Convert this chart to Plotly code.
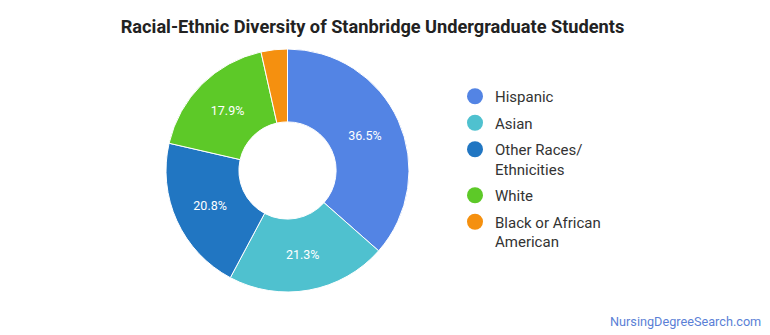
import plotly.graph_objects as go

categories = ["Hispanic", "Asian", "Other Races/<br>Ethnicities", "White", "Black or African<br>American"]
values = [36.5, 21.3, 20.8, 17.9, 3.5]
colors = ["#5384E4", "#4FC1CF", "#2176C2", "#5DC928", "#F5900F"]
labels_shown = ["36.5%", "21.3%", "20.8%", "17.9%", ""]

fig = go.Figure()
fig.add_trace(go.Pie(
    labels=categories, values=values, sort=False, direction="clockwise", rotation=0,
    hole=0.4, marker=dict(colors=colors, line=dict(color="white", width=1)),
    text=labels_shown, textinfo="text", textposition="inside",
    insidetextorientation="horizontal",
    textfont=dict(family="Roboto", size=12.5, color="white"),
    domain=dict(x=[166/770, 409/770], y=[43/335, 286/335]),
    showlegend=False, hoverinfo="label+value",
))
for i, (name, c) in enumerate(zip(categories, colors)):
    fig.add_trace(go.Scatter(x=[None], y=[None], mode="markers", name=name,
                             legendgroup=f"g{i}",
                             marker=dict(symbol="circle", size=16, color=c)))

fig.update_layout(
    width=770, height=335, margin=dict(l=0, r=0, t=0, b=0),
    paper_bgcolor="white", plot_bgcolor="white",
    xaxis=dict(visible=False), yaxis=dict(visible=False),
    title=dict(text="<b>Racial-Ethnic Diversity of Stanbridge Undergraduate Students</b>",
               x=372.5/770, xanchor="center", y=1-27/335, yanchor="middle",
               font=dict(family="Roboto", size=18.2, color="#222")),
    legend=dict(x=455/770, xanchor="left", y=1-80/335, yanchor="top",
                font=dict(family="Roboto", size=15, color="#333"),
                bgcolor="rgba(0,0,0,0)", tracegroupgap=4, valign="top"),
    annotations=[dict(text="NursingDegreeSearch.com", x=763/770, y=1-321/335,
                      xref="paper", yref="paper", xanchor="right", yanchor="middle",
                      showarrow=False, font=dict(family="Roboto", size=12.7, color="#5B7FD6"))],
)
fig.write_html("out.html")
